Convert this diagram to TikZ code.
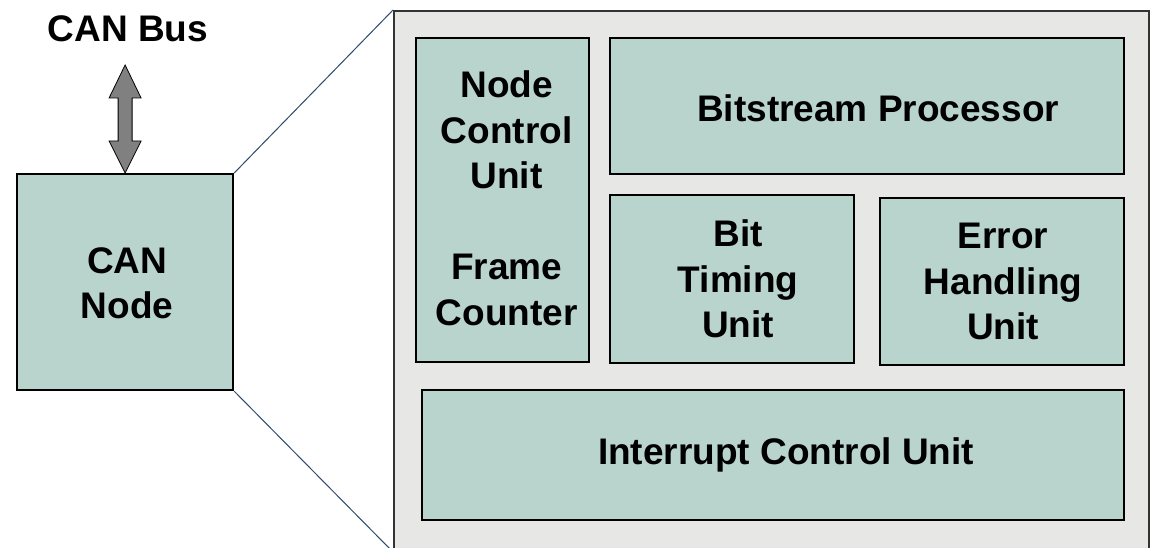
\documentclass[tikz,border=0pt]{standalone}
\usepackage{fontspec}
\setmainfont{Liberation Sans}
\usetikzlibrary{calc}
\definecolor{mint}{HTML}{B8D4CC}
\definecolor{panel}{HTML}{E7E7E5}
\definecolor{linkblue}{HTML}{2E4A6E}
\definecolor{arrowgray}{HTML}{808080}
\tikzset{
  unitbox/.style={draw=black, line width=2.2pt, fill=mint, inner sep=0pt, anchor=north west},
  outerbox/.style={draw=black!80, line width=2pt, fill=panel, inner sep=0pt, anchor=north west},
  link/.style={draw=linkblue, line width=1pt},
  busarrow/.style={draw=black, line width=0.8pt, fill=arrowgray, line join=miter},
  lbl/.style={font=\fontsize{37}{45.5}\selectfont\bfseries, inner sep=0pt, align=center}
}
\begin{document}
\begin{tikzpicture}[x=1pt,y=-1pt]
\clip (0,0) rectangle (1150,548);
\useasboundingbox (0,0) rectangle (1150,548);
\fill[white] (0,0) rectangle (1150,548);
% outer panel
\node[outerbox, minimum width=755pt, minimum height=540pt] (outer) at (393,10) {};
% CAN node
\node[unitbox, minimum width=216pt, minimum height=216pt] (can) at (16,173) {};
\node[lbl] (cant) at ([xshift=2pt,yshift=-1pt]can.center) {CAN\\Node};
% zoom lines
\draw[link] (can.north east) -- (outer.north west);
\draw[link] (can.south east) -- (outer.south west);
% inner units
\node[unitbox, minimum width=173pt, minimum height=324pt] (ncu) at (415,37) {};
\node[lbl] (ncut) at ([xshift=4pt,yshift=2pt]ncu.center) {Node\\Control\\Unit\\[45.5pt]Frame\\Counter};
\node[unitbox, minimum width=514pt, minimum height=136pt] (bsp) at (609,37) {};
\node[lbl] (bspt) at ([xshift=11pt,yshift=-2pt]bsp.center) {Bitstream Processor};
\node[unitbox, minimum width=244pt, minimum height=168pt] (btu) at (609,194) {};
\node[lbl] (btut) at ([xshift=6pt]btu.center) {Bit\\Timing\\Unit};
\node[unitbox, minimum width=244pt, minimum height=167pt] (ehu) at (879,197) {};
\node[lbl] (ehut) at ([xshift=1pt]ehu.center) {Error\\Handling\\Unit};
\node[unitbox, minimum width=702pt, minimum height=130pt] (icu) at (421,389) {};
\node[lbl] (icut) at ([xshift=13pt]icu.center) {Interrupt Control Unit};
% CAN Bus label and arrow
\node[lbl] (bus) at (128,29) {CAN Bus};
\coordinate (tip) at (can.north);
\draw[busarrow] (tip) -- ($(tip)+(16,-32)$) -- ($(tip)+(7,-32)$) -- ($(tip)+(7,-75)$) -- ($(tip)+(16,-75)$)
  -- ($(tip)+(0,-108)$) -- ($(tip)+(-16,-75)$) -- ($(tip)+(-7,-75)$) -- ($(tip)+(-7,-32)$) -- ($(tip)+(-16,-32)$) -- cycle;
\end{tikzpicture}
\end{document}
